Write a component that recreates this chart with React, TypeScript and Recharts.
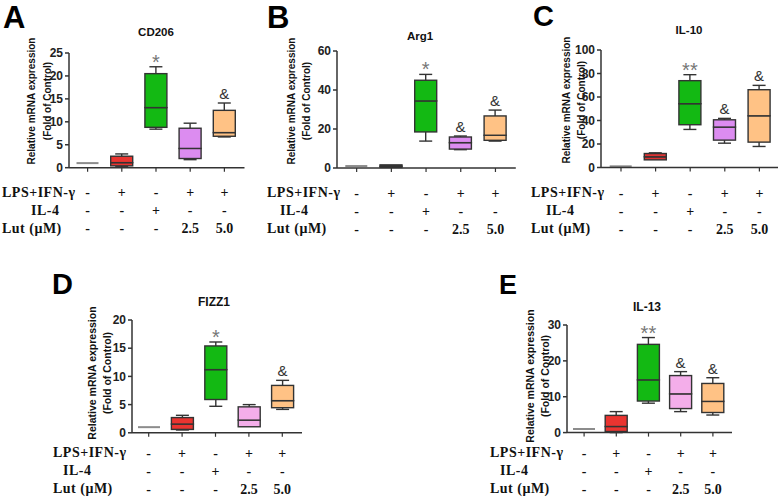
import React from "react";
import { Bar, ComposedChart, LabelList, XAxis, YAxis } from "recharts";

// groups along the x axis
const groups = ["Control", "LPS+IFN-γ", "IL-4", "LPS+IFN-γ+Lut 2.5", "LPS+IFN-γ+Lut 5.0"];
const lpsRow = ["-", "+", "-", "+", "+"];
const il4Row = ["-", "-", "+", "-", "-"];
const lutRow = ["-", "-", "-", "2.5", "5.0"];
const rowLabels = ["LPS+IFN-γ", "IL-4", "Lut (μM)"];

// each box: [min, q1, median, q3, max]
const cd206 = [[1, 1, 1, 1, 1], [0.2, 0.4, 1.1, 2.5, 3.0], [8.4, 8.8, 13.1, 20.5, 22.0], [1.75, 2.0, 4.2, 8.6, 9.7], [6.7, 6.85, 7.65, 12.5, 14.1]];
const cd206Marks = ["", "", "*", "", "&"];
const cd206Ticks = [0, 5, 10, 15, 20, 25];

const arg1 = [[1, 1, 1, 1, 1], [0.2, 0.3, 0.9, 1.6, 1.8], [13.8, 18.5, 34.4, 45, 48], [9.4, 9.7, 13, 15.9, 16.4], [13.8, 14.2, 16.8, 26.7, 29.7]];
const arg1Marks = ["", "", "*", "&", "&"];
const arg1Ticks = [0, 20, 40, 60];

const il10 = [[1, 1, 1, 1, 1], [6.3, 6.5, 9.1, 11.9, 12.5], [32.4, 36.4, 54.3, 73.9, 79], [20.7, 23.3, 34.4, 40.6, 41.8], [17.9, 21.6, 44, 66.2, 69.9]];
const il10Marks = ["", "", "**", "&", "&"];
const il10Ticks = [0, 20, 40, 60, 80, 100];

const fizz1 = [[1, 1, 1, 1, 1], [0.5, 0.6, 1.55, 2.7, 3.1], [4.7, 5.9, 11.2, 15.4, 16.1], [1.0, 1.07, 2.25, 4.6, 5.0], [4.15, 4.45, 5.7, 8.4, 9.3]];
const fizz1Marks = ["", "", "*", "", "&"];
const fizz1Ticks = [0, 5, 10, 15, 20];

const il13 = [[1, 1, 1, 1, 1], [0, 0.3, 1.7, 4.8, 5.85], [8.2, 8.8, 14.7, 24.6, 26.5], [5.85, 6.7, 10.8, 15.9, 17], [4.9, 5.6, 8.7, 13.7, 15.3]];
const il13Marks = ["", "", "**", "&", "&"];
const il13Ticks = [0, 10, 20, 30];

const paletteA = ["#999999", "#ea3430", "#13b913", "#dc8cf0", "#ffc285"];
const paletteB = ["#999999", "#151515", "#13b913", "#dc8cf0", "#ffc285"];
const paletteC = ["#999999", "#dd3434", "#13b913", "#dc8cf0", "#ffc285"];
const paletteDE = ["#999999", "#ea3430", "#13b913", "#f4aeea", "#ffc285"];

const SANS = "'Liberation Sans', Arial, sans-serif";
const SERIF = "'Liberation Serif', 'Times New Roman', serif";
const EDGE = "#333";

const panels = [
  { letter: "A", title: "CD206", boxes: cd206, marks: cd206Marks, ticks: cd206Ticks, palette: paletteA,
    L: 69, T: 53, B: 167.7, s: 34.2, padL: 1.5, letterX: 3, letterY: 0, letterSize: 31, titleX: 156, titleY: 33, titleSize: 11.5,
    ylx: [32, 48], yly: 101, ylSize: 10, rowX: [2, 31, 2], rowY: [193, 211, 229] },
  { letter: "B", title: "Arg1", boxes: arg1, marks: arg1Marks, ticks: arg1Ticks, palette: paletteB,
    L: 337, T: 50.7, B: 167.7, s: 34.7, padL: 2.3, letterX: 267, letterY: 0, letterSize: 31, titleX: 420, titleY: 37, titleSize: 11.5,
    ylx: [292, 307], yly: 101, ylSize: 10, rowX: [267, 280, 267], rowY: [193, 211, 229] },
  { letter: "C", title: "IL-10", boxes: il10, marks: il10Marks, ticks: il10Ticks, palette: paletteC,
    L: 601, T: 49.5, B: 167, s: 34.6, padL: 2.7, letterX: 533, letterY: 0, letterSize: 29, titleX: 689, titleY: 31, titleSize: 11.5,
    ylx: [567, 582], yly: 100, ylSize: 10, rowX: [531, 546, 531], rowY: [193, 211, 229] },
  { letter: "D", title: "FIZZ1", boxes: fizz1, marks: fizz1Marks, ticks: fizz1Ticks, palette: paletteDE,
    L: 131.7, T: 319.5, B: 432.3, s: 33.4, padL: 0, letterX: 52, letterY: 267.5, letterSize: 29, titleX: 214, titleY: 302, titleSize: 12,
    ylx: [92, 107], yly: 373, ylSize: 10.5, rowX: [53, 63, 53], rowY: [453, 471, 489] },
  { letter: "E", title: "IL-13", boxes: il13, marks: il13Marks, ticks: il13Ticks, palette: paletteDE,
    L: 567, T: 324.7, B: 432.3, s: 32.2, padL: 1, letterX: 499, letterY: 270, letterSize: 27, titleX: 647, titleY: 307, titleSize: 12,
    ylx: [530, 545], yly: 376, ylSize: 10.5, rowX: [490, 500, 490], rowY: [453, 471, 489] },
];

function toRows(boxes: number[][], marks: string[]) {
  return groups.map((name, i) => {
    const [mn, q1, md, q3, mx] = boxes[i];
    return { name, base: mn, lw: q1 - mn, lb: md - q1, hb: q3 - md, hw: mx - q3, mark: marks[i] };
  });
}

const Empty = () => <g />;

function LowWhisker(props: any) {
  const { x, y, width, height } = props;
  if (!height || height < 0.5) return <g />;
  const cx = x + width / 2;
  return (
    <g stroke={EDGE} strokeWidth={1.4}>
      <line x1={cx} x2={cx} y1={y} y2={y + height} />
      <line x1={cx - 6.5} x2={cx + 6.5} y1={y + height} y2={y + height} />
    </g>
  );
}

function HighWhisker(props: any) {
  const { x, y, width, height } = props;
  if (!height || height < 0.5) return <g />;
  const cx = x + width / 2;
  return (
    <g stroke={EDGE} strokeWidth={1.4}>
      <line x1={cx} x2={cx} y1={y} y2={y + height} />
      <line x1={cx - 6.5} x2={cx + 6.5} y1={y} y2={y} />
    </g>
  );
}

function makeBox(palette: string[], low: boolean) {
  return (props: any) => {
    const { x, y, width, height, payload, index } = props;
    if (payload.lb + payload.hb === 0) {
      if (!low) return <g />;
      return <line x1={x} x2={x + width} y1={y} y2={y} stroke="#8c8c8c" strokeWidth={2} />;
    }
    return <rect x={x} y={y} width={width} height={Math.max(height, 0.01)} fill={palette[index]} stroke={EDGE} strokeWidth={1.4} />;
  };
}

function Mark(props: any) {
  const { x, y, width, value } = props;
  if (!value) return null;
  const star = value.indexOf("*") >= 0;
  return (
    <text
      x={x + width / 2}
      y={star ? y + 2 : y - 4}
      textAnchor="middle"
      fontFamily={SANS}
      fontSize={star ? 20 : 15}
      fill={star ? "#777" : "#333"}
    >
      {value}
    </text>
  );
}

function RowTick(props: any) {
  const { x, y, index, payload, rowDy } = props;
  const i = index ?? payload.index;
  const rows = [lpsRow[i], il4Row[i], lutRow[i]];
  return (
    <g>
      {rows.map((r, k) => (
        <text key={k} x={x} y={y + rowDy[k]} textAnchor="middle" dominantBaseline="central" fontFamily={SERIF} fontWeight="bold" fontSize={14} fill="#111">
          {r}
        </text>
      ))}
    </g>
  );
}

function Panel({ p }: { p: (typeof panels)[number] }) {
  const rows = toRows(p.boxes, p.marks);
  const padR = 3;
  const plotW = p.padL + 5 * p.s + padR;
  const plotH = p.B - p.T;
  const tickSize = 4;
  const rowDy = p.rowY.map((ry) => ry - p.B - tickSize);
  const yMax = p.ticks[p.ticks.length - 1];
  return (
    <>
      <div style={{ position: "absolute", left: p.letterX, top: p.letterY, fontFamily: SANS, fontWeight: "bold", fontSize: p.letterSize, lineHeight: "normal", color: "#000" }}>
        {p.letter}
      </div>
      <div style={{ position: "absolute", left: p.titleX - 50, width: 100, top: p.titleY - p.titleSize / 2, textAlign: "center", fontFamily: SANS, fontWeight: "bold", fontSize: p.titleSize, lineHeight: `${p.titleSize}px`, color: "#111" }}>
        {p.title}
      </div>
      {["Relative mRNA expression", "(Fold of Control)"].map((t, k) => (
        <div key={t} style={{ position: "absolute", left: p.ylx[k], top: p.yly, transform: "translate(-50%, -50%) rotate(-90deg)", whiteSpace: "nowrap", fontFamily: SANS, fontWeight: "bold", fontSize: p.ylSize, lineHeight: `${p.ylSize}px`, color: "#111" }}>
          {t}
        </div>
      ))}
      {rowLabels.map((t, k) => (
        <div key={t} style={{ position: "absolute", left: p.rowX[k], top: p.rowY[k] - 7, fontFamily: SERIF, fontWeight: "bold", fontSize: 14, lineHeight: "14px", letterSpacing: 0.5, whiteSpace: "nowrap", color: "#111" }}>
          {t}
        </div>
      ))}
      <div style={{ position: "absolute", left: p.L - 60, top: p.T - 20 }}>
        <ComposedChart width={60 + plotW + 2} height={20 + plotH + 70} data={rows} margin={{ top: 20, right: 2, left: 0, bottom: 0 }} barSize={22}>
          <XAxis
            dataKey="name"
            height={70}
            interval={0}
            padding={{ left: p.padL, right: padR }}
            axisLine={{ stroke: EDGE, strokeWidth: 1.5 }}
            tickLine={{ stroke: EDGE, strokeWidth: 1.2 }}
            tickSize={tickSize}
            tickMargin={0}
            tick={(tp: any) => <RowTick {...tp} rowDy={rowDy} />}
          />
          <YAxis
            width={60}
            domain={[0, yMax]}
            ticks={p.ticks}
            interval={0}
            axisLine={{ stroke: EDGE, strokeWidth: 1.5 }}
            tickLine={{ stroke: EDGE, strokeWidth: 1.5 }}
            tickSize={4}
            tickMargin={2}
            tick={{ fontFamily: SANS, fontWeight: "bold", fontSize: 12, fill: "#222" }}
          />
          <Bar dataKey="base" stackId="b" shape={Empty} isAnimationActive={false} />
          <Bar dataKey="lw" stackId="b" shape={LowWhisker} isAnimationActive={false} />
          <Bar dataKey="lb" stackId="b" shape={makeBox(p.palette, true)} isAnimationActive={false} />
          <Bar dataKey="hb" stackId="b" shape={makeBox(p.palette, false)} isAnimationActive={false} />
          <Bar dataKey="hw" stackId="b" shape={HighWhisker} isAnimationActive={false}>
            <LabelList dataKey="mark" content={Mark} />
          </Bar>
        </ComposedChart>
      </div>
    </>
  );
}

export default function App() {
  return (
    <div style={{ position: "absolute", left: 0, top: 0, width: 778, height: 499, background: "#fff", overflow: "hidden" }}>
      {panels.map((p) => (
        <Panel key={p.letter} p={p} />
      ))}
    </div>
  );
}
